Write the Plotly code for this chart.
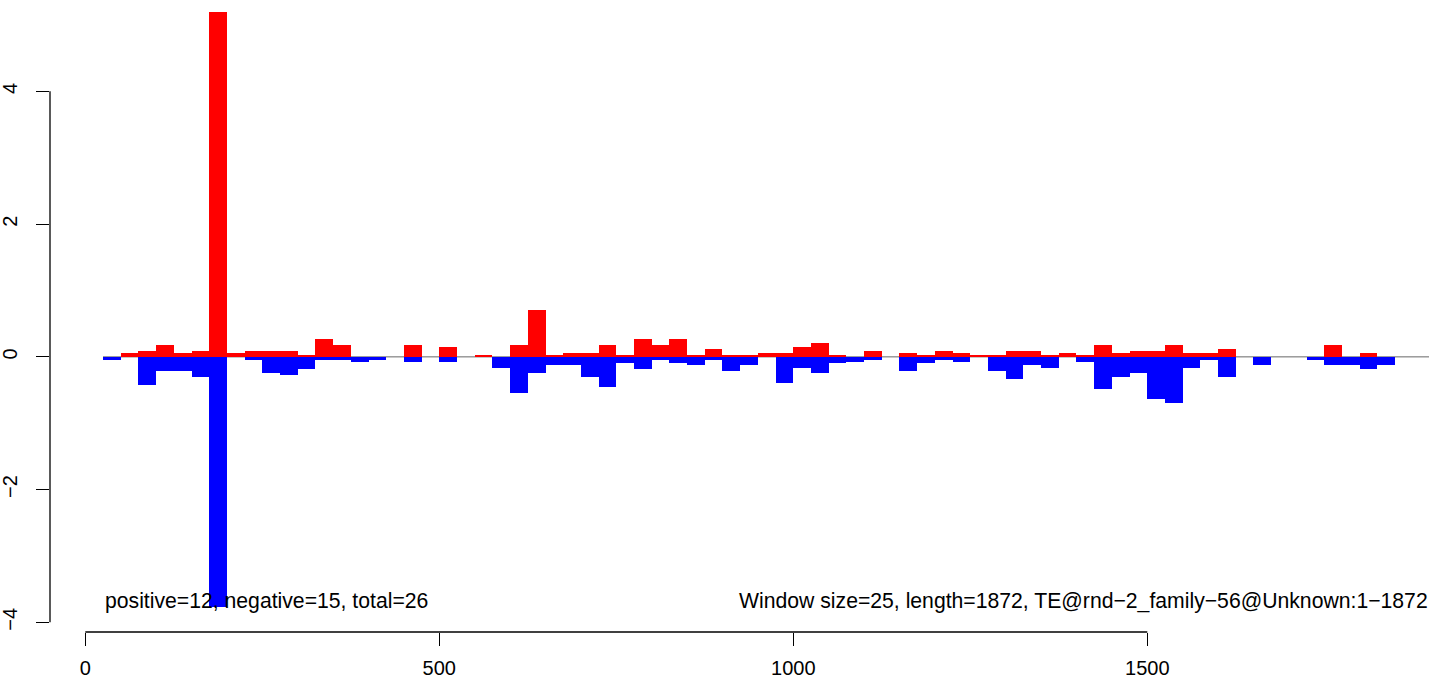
import plotly.graph_objects as go

WINDOW = 25
LENGTH = 1872

# per-window values (window k covers [k*WINDOW, (k+1)*WINDOW]), k = 1..74
positive = [0, 0.06, 0.09, 0.18, 0.06, 0.09, 5.2, 0.06, 0.09, 0.09,
            0.09, 0.03, 0.27, 0.18, 0, 0, 0, 0.18, 0, 0.15,
            0, 0.03, 0, 0.18, 0.71, 0.03, 0.06, 0.06, 0.18, 0.03,
            0.27, 0.18, 0.27, 0.03, 0.12, 0.03, 0.03, 0.06, 0.06, 0.15,
            0.21, 0.03, 0, 0.09, 0, 0.06, 0.03, 0.09, 0.06, 0.03,
            0.03, 0.09, 0.09, 0.03, 0.06, 0.03, 0.18, 0.06, 0.09, 0.09,
            0.18, 0.06, 0.06, 0.12, 0, 0, 0, 0, 0, 0.18,
            0, 0.06, 0, 0]
negative = [-0.045, 0, -0.42, -0.22, -0.22, -0.31, -3.77, 0, -0.045, -0.25,
            -0.28, -0.19, -0.045, -0.045, -0.075, -0.045, 0, -0.075, 0, -0.075,
            0, 0, -0.165, -0.54, -0.25, -0.13, -0.13, -0.31, -0.45, -0.10,
            -0.19, -0.045, -0.10, -0.13, -0.045, -0.22, -0.13, 0, -0.39, -0.165,
            -0.25, -0.10, -0.075, -0.045, 0, -0.22, -0.10, -0.045, -0.075, 0,
            -0.22, -0.34, -0.13, -0.165, 0, -0.075, -0.48, -0.31, -0.25, -0.63,
            -0.69, -0.165, -0.045, -0.31, 0, -0.13, 0, 0, -0.045, -0.13,
            -0.13, -0.19, -0.13, 0]

x_ticks = [0, 500, 1000, 1500]
y_ticks = [-4, -2, 0, 2, 4]
y_tick_text = ["\u22124", "\u22122", "0", "2", "4"]

left_text = "positive=12, negative=15, total=26"
right_text = "Window size=25, length=1872, TE@rnd\u22122_family\u221256@Unknown:1\u22121872"

starts = [WINDOW * (k + 1) for k in range(len(positive))]
centers = [s + WINDOW / 2 for s in starts]

FONT = "Liberation Sans, Arial, Helvetica, sans-serif"
FS = 20
FS_TXT = 21.2

fig = go.Figure()
fig.add_trace(go.Bar(x=centers, y=positive, width=WINDOW, marker=dict(color="#ff0000", line=dict(width=0)),
                     opacity=1, showlegend=False, hoverinfo="skip"))
fig.add_trace(go.Bar(x=centers, y=negative, width=WINDOW, marker=dict(color="#0000ff", line=dict(width=0)),
                     opacity=1, showlegend=False, hoverinfo="skip"))

shapes = [
    # zero baseline
    dict(type="line", xref="x", yref="y", x0=starts[0], x1=2000, y0=0, y1=0,
         line=dict(color="#666666", width=1), layer="below"),
    # R-style axis lines spanning first to last tick
    dict(type="line", xref="x", yref="paper", x0=x_ticks[0], x1=x_ticks[-1], y0=0, y1=0,
         line=dict(color="black", width=1.3)),
    dict(type="line", xref="paper", yref="y", x0=0, x1=0, y0=y_ticks[0], y1=y_ticks[-1],
         line=dict(color="black", width=1.3)),
]

annotations = [
    dict(x=starts[0], y=-3.68, xref="x", yref="y", text=left_text, showarrow=False,
         xanchor="left", yanchor="middle", font=dict(family=FONT, size=FS_TXT, color="black")),
    dict(x=920, y=-3.68, xref="x", yref="y", text=right_text, showarrow=False,
         xanchor="left", yanchor="middle", font=dict(family=FONT, size=FS_TXT, color="black")),
]

fig.update_layout(
    width=1429, height=678,
    margin=dict(l=50, r=0, t=0, b=46.3, pad=0, autoexpand=False),
    paper_bgcolor="white", plot_bgcolor="white",
    barmode="overlay", bargap=0,
    shapes=shapes, annotations=annotations,
    font=dict(family=FONT, size=FS, color="black"),
    xaxis=dict(range=[-49.86, 1897.9], tickmode="array", tickvals=x_ticks,
               ticktext=[str(v) for v in x_ticks], automargin=False,
               showline=False, showgrid=False, zeroline=False,
               ticks="outside", ticklen=13, tickwidth=1.3, tickcolor="black",
               ticklabelstandoff=5, fixedrange=True),
    yaxis=dict(range=[-4.145, 5.376], tickmode="array", tickvals=y_ticks, ticktext=y_tick_text,
               tickangle=-90, automargin=False,
               showline=False, showgrid=False, zeroline=False,
               ticks="outside", ticklen=13, tickwidth=1.3, tickcolor="black",
               ticklabelstandoff=11, fixedrange=True),
)

fig.write_html("out.html", config={"displayModeBar": False},
               post_script="document.body.style.margin='0';")
